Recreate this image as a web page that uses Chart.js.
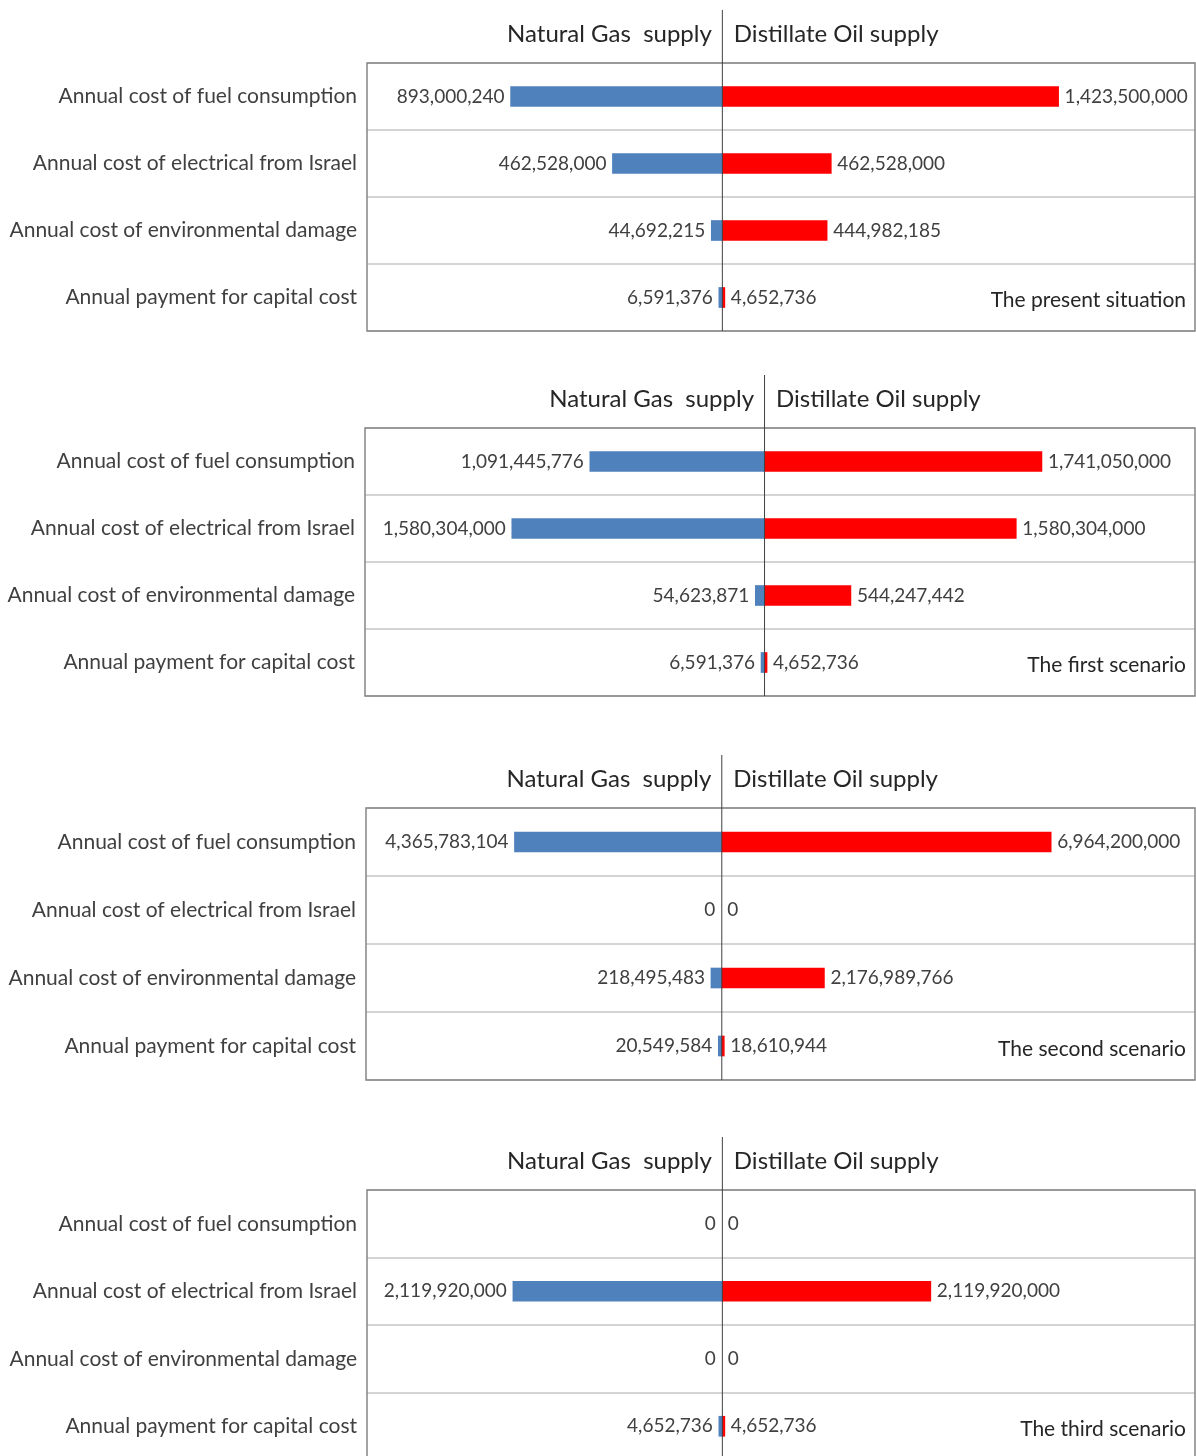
<!DOCTYPE html>
<html>
<head>
<meta charset="utf-8">
<script src="https://cdn.jsdelivr.net/npm/chart.js@4.4.0/dist/chart.umd.min.js"></script>
<style>
  body { margin: 0; background: #fff; width: 1196px; height: 1456px; overflow: hidden; position: relative; }
  .panel { position: absolute; left: 0; width: 1196px; }
</style>
</head>
<body>
<div class="panel" style="top:0px;height:345px"><canvas id="c0"></canvas></div>
<div class="panel" style="top:360px;height:345px"><canvas id="c1"></canvas></div>
<div class="panel" style="top:740px;height:350px"><canvas id="c2"></canvas></div>
<div class="panel" style="top:1120px;height:345px"><canvas id="c3"></canvas></div>
<script>
const categories = ['Annual cost of fuel consumption', 'Annual cost of electrical from Israel', 'Annual cost of environmental damage', 'Annual payment for capital cost'];
const seriesNames = ['Natural Gas  supply', 'Distillate Oil supply'];
const scenarioNames = ['The present situation', 'The first scenario', 'The second scenario', 'The third scenario'];

const gasPresent = [893000240, 462528000, 44692215, 6591376];
const oilPresent = [1423500000, 462528000, 444982185, 4652736];
const gasFirst = [1091445776, 1580304000, 54623871, 6591376];
const oilFirst = [1741050000, 1580304000, 544247442, 4652736];
const gasSecond = [4365783104, 0, 218495483, 20549584];
const oilSecond = [6964200000, 0, 2176989766, 18610944];
const gasThird = [0, 2119920000, 0, 4652736];
const oilThird = [0, 2119920000, 0, 4652736];

const axisMin = [-1.5e9, -2.5e9, -7.5e9, -3.6e9];
const axisMax = [2.0e9, 2.7e9, 10e9, 4.8e9];

const FONT = 'Lato, "Open Sans", sans-serif';
const TEXT = '#404040';
const BLUE = '#4f81bd';
const RED = '#ff0000';

// per panel: canvas height, chart top, chart bottom (canvas coords), left edge of plot
const panels = [
    {gas: gasPresent, oil: oilPresent, top: 63, bottom: 331, left: 367, h: 345},
    {gas: gasFirst, oil: oilFirst, top: 68, bottom: 336, left: 365, h: 345},
    {gas: gasSecond, oil: oilSecond, top: 68, bottom: 340, left: 366, h: 350},
    {gas: gasThird, oil: oilThird, top: 70, bottom: 340, left: 367, h: 345}
];

function fmt(v) {
    return Math.abs(v).toLocaleString('en-US');
}

const butterflyPlugin = {
    id: 'butterfly',
    afterDatasetsDraw(chart, args, opts) {
        const ctx = chart.ctx;
        const area = chart.chartArea;
        const xs = chart.scales.x;
        const ys = chart.scales.y;
        const x0 = xs.getPixelForValue(0);
        ctx.save();
        // box
        ctx.strokeStyle = '#858585';
        ctx.lineWidth = 1.5;
        ctx.strokeRect(area.left, area.top, area.right - area.left, area.bottom - area.top);
        // centre line
        ctx.strokeStyle = '#404040';
        ctx.lineWidth = 1;
        ctx.beginPath();
        ctx.moveTo(x0 + 0.5, area.top - 53);
        ctx.lineTo(x0 + 0.5, area.bottom);
        ctx.stroke();
        // headers
        ctx.fillStyle = '#262626';
        ctx.font = '24px ' + FONT;
        ctx.textBaseline = 'middle';
        ctx.textAlign = 'right';
        ctx.fillText(seriesNames[0], x0 - 10, area.top - 29);
        ctx.textAlign = 'left';
        ctx.fillText(seriesNames[1], x0 + 12, area.top - 29);
        // value labels, placed at the bar ends
        ctx.fillStyle = TEXT;
        ctx.font = '19px ' + FONT;
        opts.gas.forEach((v, j) => {
            const y = ys.getPixelForValue(j);
            const len = v ? Math.max(x0 - xs.getPixelForValue(-v), 3) : 0;
            ctx.textAlign = 'right';
            ctx.fillText(fmt(v), x0 - len - 6, y);
        });
        opts.oil.forEach((v, j) => {
            const y = ys.getPixelForValue(j);
            const len = v ? Math.max(xs.getPixelForValue(v) - x0, 3) : 0;
            ctx.textAlign = 'left';
            ctx.fillText(fmt(v), x0 + len + 6, y);
        });
        // scenario name
        const rowH = (area.bottom - area.top) / categories.length;
        ctx.textAlign = 'right';
        ctx.font = '21px ' + FONT;
        ctx.fillStyle = '#262626';
        ctx.fillText(opts.name, area.right - 9, area.bottom - rowH / 2 + 3);
        ctx.restore();
    }
};

function makeChart(idx) {
    const p = panels[idx];
    const canvas = document.getElementById('c' + idx);
    new Chart(canvas.getContext('2d'), {
        type: 'bar',
        data: {
            labels: categories,
            datasets: [
                {label: seriesNames[0], data: p.gas.map(v => v === 0 ? null : -v), backgroundColor: BLUE, barThickness: 20, minBarLength: 3},
                {label: seriesNames[1], data: p.oil.map(v => v === 0 ? null : v), backgroundColor: RED, barThickness: 20, minBarLength: 3}
            ]
        },
        options: {
            indexAxis: 'y',
            responsive: true,
            maintainAspectRatio: false,
            animation: false,
            layout: {padding: {top: p.top, bottom: p.h - p.bottom, left: 0, right: 1}},
            plugins: {
                legend: {display: false},
                tooltip: {enabled: false},
                butterfly: {name: scenarioNames[idx], gas: p.gas, oil: p.oil}
            },
            scales: {
                x: {
                    stacked: true,
                    display: false,
                    min: axisMin[idx],
                    max: axisMax[idx]
                },
                y: {
                    stacked: true,
                    afterFit: (scale) => {
                        scale.width = p.left;
                        scale.paddingTop = 0;
                        scale.paddingBottom = 0;
                    },
                    grid: {offset: true, color: '#d4d4d4', lineWidth: 2, drawTicks: false},
                    border: {display: false},
                    ticks: {color: TEXT, font: {family: FONT, size: 21}, padding: 10}
                }
            }
        },
        plugins: [butterflyPlugin]
    });
}

for (let i = 0; i < panels.length; i++) {
    makeChart(i);
}
</script>
</body>
</html>
